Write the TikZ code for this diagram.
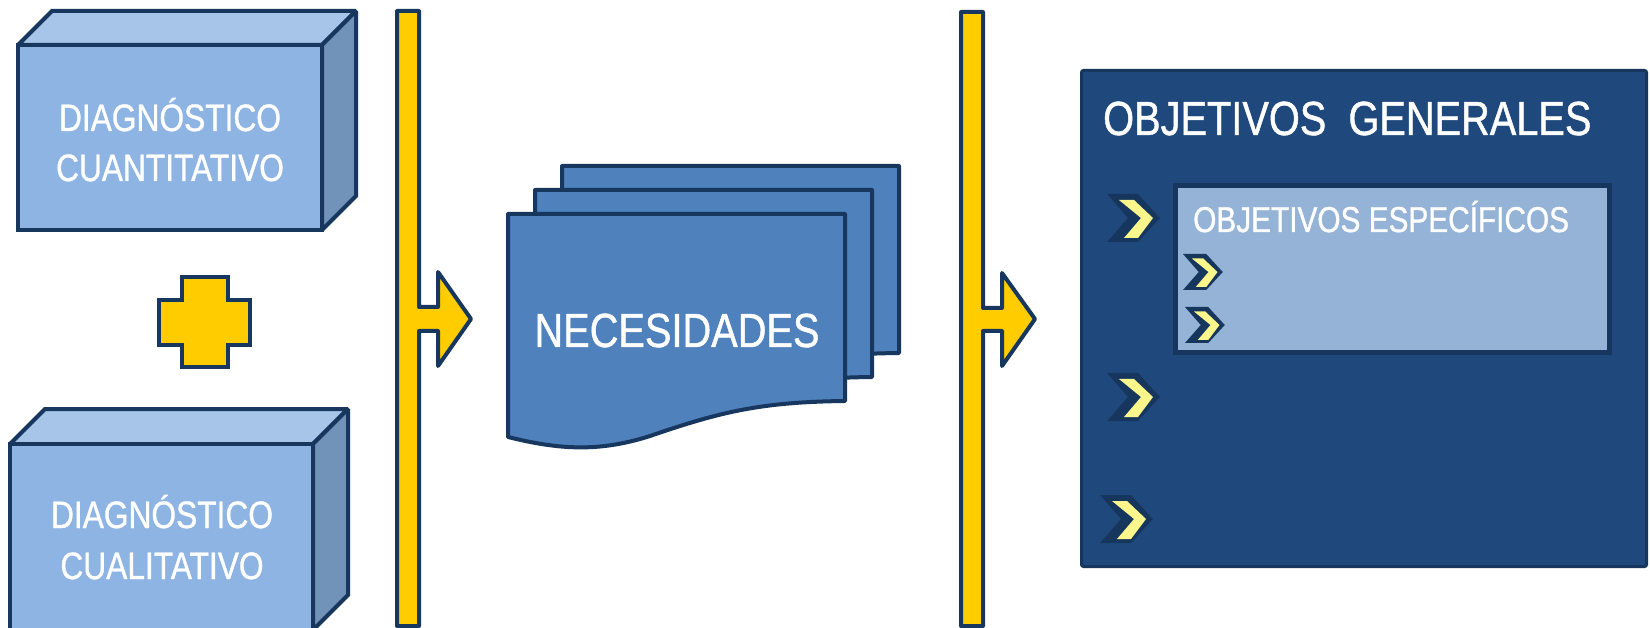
\documentclass[tikz,border=0pt]{standalone}
\usepackage{fontspec}
\newfontfamily\nar{Liberation Sans}[FakeStretch=0.83,FakeBold=0.9]
\definecolor{navy}{HTML}{17375E}
\definecolor{boxfront}{HTML}{8EB4E3}
\definecolor{boxtop}{HTML}{A6C5E9}
\definecolor{boxside}{HTML}{7193B9}
\definecolor{gold}{HTML}{FFCC00}
\definecolor{docblue}{HTML}{4F81BD}
\definecolor{objdark}{HTML}{1F497D}
\definecolor{objlight}{HTML}{95B3D7}
\definecolor{chevy}{HTML}{FAF68C}
\definecolor{chevd}{HTML}{17365D}
\begin{document}
\begin{tikzpicture}[x=1pt,y=-1pt,line join=miter,miter limit=1.5,
  outl/.style={draw=navy,line width=4pt},
  lbl/.style={text=white,inner sep=0pt,anchor=base},
  fbox/.style={font=\nar\fontsize{38.2}{46}\selectfont},
  fnec/.style={font=\nar\fontsize{47.9}{56}\selectfont},
  fgen/.style={font=\nar\fontsize{47.9}{56}\selectfont},
  fesp/.style={font=\nar\fontsize{35.9}{42}\selectfont},
  chev/.pic={
    \fill[chevd] (0,-24) -- (31,-24) -- (53,0) -- (31,24) -- (0,24) -- (21,0) -- cycle;
    \fill[chevy] (12,-18) -- (27,-18) -- (46,0) -- (31,20) -- (17,20) -- (34,0) -- cycle;
  }]
\useasboundingbox (0,0) rectangle (1650,628);
% top 3D box
\filldraw[outl,fill=boxtop] (18,45) -- (52,11) -- (356,11) -- (322,45) -- cycle;
\filldraw[outl,fill=boxside] (322,45) -- (356,11) -- (356,196) -- (322,230) -- cycle;
\filldraw[outl,fill=boxfront] (18,45) rectangle (322,230);
\node[lbl,fbox] (dq1) at (170,131) {DIAGNÓSTICO};
\node[lbl,fbox] (dq2) at (170,181) {CUANTITATIVO};
% plus
\filldraw[outl,fill=gold] (182,277) -- (228,277) -- (228,300) -- (250,300) -- (250,345) -- (228,345) -- (228,367) -- (182,367) -- (182,345) -- (159,345) -- (159,300) -- (182,300) -- cycle;
% bottom 3D box
\filldraw[outl,fill=boxtop] (10,444) -- (45,409) -- (348,409) -- (313,444) -- cycle;
\filldraw[outl,fill=boxside] (313,444) -- (348,409) -- (348,595) -- (313,630) -- cycle;
\filldraw[outl,fill=boxfront] (10,444) rectangle (313,630);
\node[lbl,fbox] (dl1) at (162,528) {DIAGNÓSTICO};
\node[lbl,fbox] (dl2) at (162,579) {CUALITATIVO};
% bar arrows
\filldraw[outl,fill=gold,line join=round] (397,11) -- (419,11) -- (419,307) -- (438,307) -- (438,272) -- (471,319) -- (438,366) -- (438,331) -- (419,331) -- (419,626) -- (397,626) -- cycle;
\filldraw[outl,fill=gold,line join=round] (961,12) -- (983,12) -- (983,308) -- (1002,308) -- (1002,273) -- (1035,319) -- (1002,366) -- (1002,331) -- (983,331) -- (983,626) -- (961,626) -- cycle;
% documents
\foreach \dx/\dy in {54/-48, 27/-24, 0/0} {
  \filldraw[outl,fill=docblue,line join=round,shift={(\dx,\dy)}] (508,214) -- (845,214) -- (845,401) .. controls (760,402) and (720,412) .. (650,436) .. controls (600,452) and (560,450) .. (508,437) -- cycle;
}
\node[lbl,fnec] (nec) at (677,347) {NECESIDADES};
% objectives
\filldraw[fill=objdark,draw=chevd,line width=3pt,rounded corners=2pt] (1081.5,70.5) rectangle (1646.5,566.5);
\node[lbl,fgen,anchor=base west] (og) at (1103,135) {OBJETIVOS\ \ GENERALES};
\filldraw[fill=objlight,draw=chevd,line width=5pt] (1175,186) rectangle (1609,353);
\node[lbl,fesp,anchor=base west] (oe) at (1193,232) {OBJETIVOS ESPECÍFICOS};
\pic at (1107,218) {chev};
\pic at (1107,397) {chev};
\pic at (1100,519) {chev};
\pic[scale=0.75] at (1183,272) {chev};
\pic[scale=0.75] at (1185,325) {chev};
\end{tikzpicture}
\end{document}
